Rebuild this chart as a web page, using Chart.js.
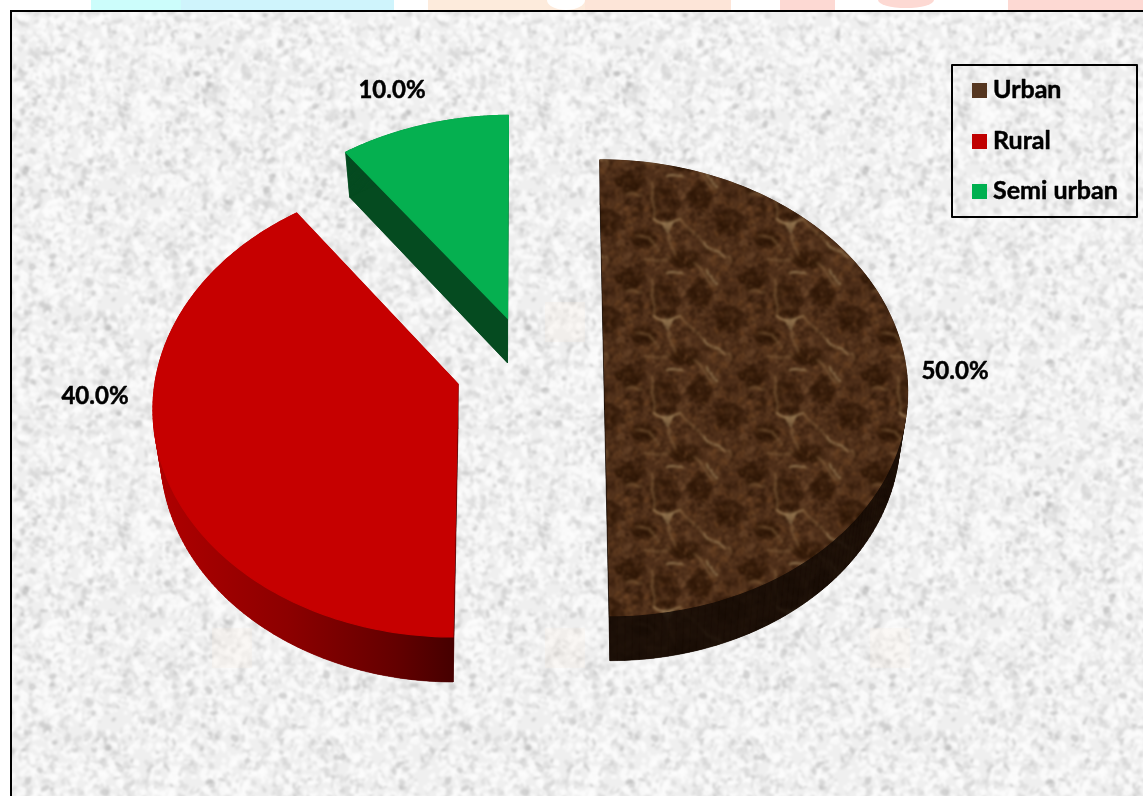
<!DOCTYPE html>
<html>
<head>
<meta charset="utf-8">
<title>Urban, rural and semi urban share</title>
<style>
  html, body { margin: 0; padding: 0; background: #fff; overflow: hidden; }
  canvas { display: block; }
</style>
<script src="https://cdn.jsdelivr.net/npm/chart.js@4/dist/chart.umd.js"></script>
</head>
<body>
<canvas id="residenceChart" width="1143" height="796"></canvas>
<script>
// chart data
const categories = ['Urban', 'Rural', 'Semi urban'];
const shares = [50, 40, 10];

// where each pulled-apart slice sits on the tilted plate
const slicePoses = [
  { x: 604.5, y: 365, a: 301, b: 5, d: 0, e: 225.6 },
  { x: 458, y: 384, a: 303, b: -4.5, d: 1, e: 227.7 },
  { x: 507.5, y: 318, a: 299, b: -1, d: -2, e: 223 }
];
const labelSpots = [[955, 371], [95, 396], [392, 90]];
const PERSPECTIVE = -0.1;
const THICKNESS = 45;

// small repeatable generator, only used for surface textures
function speckler(seed) {
  let s = seed;
  return () => {
    s = (s * 16807) % 2147483647;
    return s / 2147483647;
  };
}

// blur a tile while keeping its edges seamless
function softenTile(raw, w, h, radius) {
  const sheet = document.createElement('canvas');
  sheet.width = w * 3;
  sheet.height = h * 3;
  const s = sheet.getContext('2d');
  for (let dx = 0; dx < 3; dx++) {
    for (let dy = 0; dy < 3; dy++) {
      s.drawImage(raw, dx * w, dy * h);
    }
  }
  const tile = document.createElement('canvas');
  tile.width = w;
  tile.height = h;
  const t = tile.getContext('2d');
  t.filter = `blur(${radius}px)`;
  t.drawImage(sheet, -w, -h);
  return tile;
}

function makePaperTile() {
  const size = 420;
  const raw = document.createElement('canvas');
  raw.width = raw.height = size;
  const c = raw.getContext('2d');
  const rnd = speckler(4711);
  c.fillStyle = '#efefef';
  c.fillRect(0, 0, size, size);
  for (let i = 0; i < 8000; i++) {
    const pick = rnd();
    let fill;
    if (pick < 0.05) fill = 'rgba(170,170,170,0.42)';
    else if (pick < 0.4) fill = 'rgba(205,205,205,0.4)';
    else fill = 'rgba(252,252,252,0.75)';
    c.fillStyle = fill;
    c.beginPath();
    c.ellipse(rnd() * size, rnd() * size, 1 + rnd() * 2.4, 1.5 + rnd() * 3.6, rnd() * 3.14, 0, Math.PI * 2);
    c.fill();
  }
  return softenTile(raw, size, size, 0.9);
}

function makeMarbleTile() {
  const w = 123;
  const h = 97;
  const raw = document.createElement('canvas');
  raw.width = w;
  raw.height = h;
  const c = raw.getContext('2d');
  const rnd = speckler(90210);
  // draws one shape on every wrapped copy of the tile
  const wrapped = (draw) => {
    for (let dx = -w; dx <= w; dx += w) {
      for (let dy = -h; dy <= h; dy += h) {
        c.save();
        c.translate(52 + dx, 32 + dy);
        draw();
        c.restore();
      }
    }
  };
  const blob = (x, y, r, fill) => {
    wrapped(() => {
      c.fillStyle = fill;
      c.beginPath();
      c.arc(x, y, r, 0, Math.PI * 2);
      c.fill();
    });
  };
  c.fillStyle = '#50301a';
  c.fillRect(0, 0, w, h);

  // cloudy mid tones
  for (let i = 0; i < 520; i++) {
    const tone = rnd();
    const fill = tone < 0.5 ? 'rgba(46,22,8,0.4)' : tone < 0.85 ? 'rgba(112,72,38,0.38)' : 'rgba(132,94,58,0.3)';
    blob(rnd() * w - 52, rnd() * h - 32, 0.8 + rnd() * 2.6, fill);
  }

  // dark shields between the veins, broken up into small clots
  const shields = [[-2, -23, 15, 18], [-37, -43, 14, 10], [63, -3, 14, 12], [20, 33, 16, 8], [-23, 13, 11, 9], [32, -30, 11, 14]];
  shields.forEach(([x, y, rx, ry]) => {
    for (let i = 0; i < 60; i++) {
      const turn = rnd() * Math.PI * 2;
      const reach = Math.sqrt(rnd());
      blob(x + Math.cos(turn) * rx * reach, y + Math.sin(turn) * ry * reach, 1.5 + rnd() * 2.5, 'rgba(48,22,8,0.3)');
    }
  });

  // pale veins, each one a soft halo with a thin bright core
  const veins = [
    [[0, -50], [7, -51], [15, -50]],
    [[-40, -32], [-33, -33], [-26, -31]],
    [[-15, -43], [-15, -28], [-13, -7]],
    [[-13, -7], [-6, -3], [13, -7]],
    [[27, -60], [37, -50], [47, -37]],
    [[13, -7], [25, 5], [37, 17]],
    [[37, 17], [46, 24], [58, 31]],
    [[-30, 10], [-18, 12], [-8, 25]],
    [[52, 30], [58, 31], [64, 34]],
    [[40, 44], [44, 50], [50, 58]],
    [[-22, 33], [-10, 35], [2, 32]],
    [[2, 9], [4, 20], [8, 28]]
  ];
  veins.forEach((pts, i) => {
    const bent = [];
    pts.forEach((p, j) => {
      if (j) {
        const q = pts[j - 1];
        bent.push([(p[0] + q[0]) / 2 + (rnd() - 0.5) * 4, (p[1] + q[1]) / 2 + (rnd() - 0.5) * 4]);
      }
      bent.push(p);
    });
    wrapped(() => {
      c.lineCap = 'round';
      c.beginPath();
      bent.forEach((p, j) => (j ? c.lineTo(p[0], p[1]) : c.moveTo(p[0], p[1])));
      c.strokeStyle = 'rgba(120,84,50,0.34)';
      c.lineWidth = 4.5;
      c.stroke();
      c.strokeStyle = i % 3 === 0 ? 'rgba(172,146,106,0.6)' : 'rgba(146,114,78,0.45)';
      c.lineWidth = i % 3 === 0 ? 1.8 : 1.2;
      c.stroke();
    });
  });

  // the bright wedge where veins meet
  wrapped(() => {
    c.fillStyle = 'rgba(160,130,90,0.72)';
    c.beginPath();
    c.moveTo(-6, -3);
    c.lineTo(7, -4);
    c.lineTo(1, 9);
    c.closePath();
    c.fill();
  });

  // fine grain over everything
  for (let i = 0; i < 1300; i++) {
    c.fillStyle = rnd() < 0.55 ? 'rgba(30,14,5,0.3)' : 'rgba(150,108,68,0.24)';
    c.fillRect(rnd() * w, rnd() * h, 1.5, 1.5);
  }
  return softenTile(raw, w, h, 0.8);
}

const pageCtx = document.getElementById('residenceChart').getContext('2d');
const paperPattern = pageCtx.createPattern(makePaperTile(), 'repeat');
const marbleTile = makeMarbleTile();
const marblePattern = pageCtx.createPattern(marbleTile, 'repeat');

const darkMarble = document.createElement('canvas');
darkMarble.width = marbleTile.width;
darkMarble.height = marbleTile.height;
{
  const c = darkMarble.getContext('2d');
  c.drawImage(marbleTile, 0, 0);
  c.fillStyle = 'rgba(20,11,5,0.86)';
  c.fillRect(0, 0, darkMarble.width, darkMarble.height);
}
const darkMarblePattern = pageCtx.createPattern(darkMarble, 'repeat');

const ruralWall = pageCtx.createLinearGradient(155, 0, 455, 0);
ruralWall.addColorStop(0, '#b00000');
ruralWall.addColorStop(0.45, '#8c0000');
ruralWall.addColorStop(0.8, '#640000');
ruralWall.addColorStop(1, '#450000');

const sliceFills = [marblePattern, '#c60000', '#05b050'];
const wallFills = [darkMarblePattern, ruralWall, '#054b20'];
const swatchFills = ['#553620', '#c00000', '#00b050'];

// unit circle point -> tilted plate, sunk by `depth` for the underside
function project(pose, u, v, depth) {
  const w = 1 + PERSPECTIVE * v;
  let x = (pose.a * u + pose.b * v) / w;
  let y = (pose.d * u + pose.e * v) / w;
  if (depth) x *= 0.975;
  return [pose.x + x, pose.y + y + depth];
}

function outline(pose, start, end, depth) {
  const pts = [project(pose, 0, 0, depth)];
  const steps = 140;
  for (let i = 0; i <= steps; i++) {
    const t = start + (end - start) * i / steps;
    pts.push(project(pose, Math.cos(t), Math.sin(t), depth));
  }
  return pts;
}

function tracePoly(ctx, pts) {
  ctx.beginPath();
  pts.forEach((p, i) => (i ? ctx.lineTo(p[0], p[1]) : ctx.moveTo(p[0], p[1])));
  ctx.closePath();
}

const platePlugin = {
  id: 'tiltedPlate',
  beforeDraw(chart) {
    const ctx = chart.ctx;
    ctx.save();
    ctx.fillStyle = '#ffffff';
    ctx.fillRect(0, 0, 1143, 796);
    // strip of the page showing above the frame
    ctx.fillStyle = '#ccfdfb';
    ctx.fillRect(91, 0, 90, 10);
    ctx.fillStyle = '#cff4fc';
    ctx.fillRect(181, 0, 213, 10);
    ctx.fillStyle = '#fdebdc';
    ctx.fillRect(428, 0, 157, 10);
    ctx.fillStyle = '#fde5d8';
    ctx.fillRect(585, 0, 146, 10);
    ctx.fillStyle = '#fdd9d3';
    ctx.fillRect(780, 0, 55, 10);
    ctx.fillRect(1008, 0, 135, 10);
    ctx.beginPath();
    ctx.ellipse(906, 0, 28, 8, 0, 0, Math.PI * 2);
    ctx.fill();
    ctx.fillStyle = '#ffffff';
    ctx.beginPath();
    ctx.ellipse(566, 0, 19, 10, 0, 0, Math.PI * 2);
    ctx.fill();
    // panel
    ctx.fillStyle = paperPattern;
    ctx.fillRect(12, 12, 1131, 784);
    // faint stamps in the paper
    ctx.fillStyle = 'rgba(250,236,222,0.2)';
    [[565, 322], [232, 648], [565, 648], [890, 648]].forEach(([x, y]) => {
      ctx.fillRect(x - 20, y - 20, 40, 40);
    });
    ctx.fillStyle = '#000000';
    ctx.fillRect(10, 10, 1133, 2);
    ctx.fillRect(10, 10, 2, 786);
    ctx.restore();
  },
  beforeDatasetsDraw(chart) {
    const ctx = chart.ctx;
    const arcs = chart.getDatasetMeta(0).data;
    ctx.save();
    arcs.forEach((arc, i) => {
      const pose = slicePoses[i];
      const top = outline(pose, arc.startAngle, arc.endAngle, 0);
      const under = outline(pose, arc.startAngle, arc.endAngle, THICKNESS);
      // walls first, the top face hides the far ones
      ctx.fillStyle = wallFills[i];
      ctx.strokeStyle = wallFills[i];
      ctx.lineWidth = 0.6;
      tracePoly(ctx, under);
      ctx.fill();
      top.forEach((p, j) => {
        const n = (j + 1) % top.length;
        tracePoly(ctx, [p, top[n], under[n], under[j]]);
        ctx.fill();
        ctx.stroke();
      });
      ctx.fillStyle = arc.options.backgroundColor;
      ctx.strokeStyle = arc.options.backgroundColor;
      ctx.lineWidth = 1.2;
      tracePoly(ctx, top);
      ctx.fill();
      ctx.stroke();
    });
    ctx.restore();
    return false;
  },
  afterDraw(chart) {
    const ctx = chart.ctx;
    ctx.save();
    ctx.fillStyle = '#000000';
    ctx.strokeStyle = '#000000';
    ctx.lineWidth = 0.5;
    ctx.lineJoin = 'round';
    ctx.font = 'bold 24px Lato, sans-serif';
    ctx.textAlign = 'center';
    ctx.textBaseline = 'middle';
    shares.forEach((value, i) => {
      const text = value.toFixed(1) + '%';
      ctx.fillText(text, labelSpots[i][0], labelSpots[i][1]);
      ctx.strokeText(text, labelSpots[i][0], labelSpots[i][1]);
    });

    // legend box
    ctx.lineWidth = 2;
    ctx.strokeRect(952, 65, 185, 152);
    ctx.font = 'bold 25px Lato, sans-serif';
    ctx.textAlign = 'left';
    ctx.textBaseline = 'alphabetic';
    const rows = [98, 149, 199];
    categories.forEach((name, i) => {
      ctx.fillStyle = swatchFills[i];
      ctx.fillRect(972, rows[i] - 15, 15, 15);
      ctx.fillStyle = '#000000';
      ctx.lineWidth = 0.5;
      ctx.fillText(name, 993, rows[i]);
      ctx.strokeText(name, 993, rows[i]);
    });
    ctx.restore();
  }
};

new Chart(pageCtx, {
  type: 'pie',
  data: {
    labels: categories,
    datasets: [{
      data: shares,
      backgroundColor: sliceFills,
      borderWidth: 0
    }]
  },
  options: {
    responsive: false,
    animation: false,
    plugins: {
      legend: { display: false },
      tooltip: { enabled: false }
    }
  },
  plugins: [platePlugin]
});
</script>
</body>
</html>
